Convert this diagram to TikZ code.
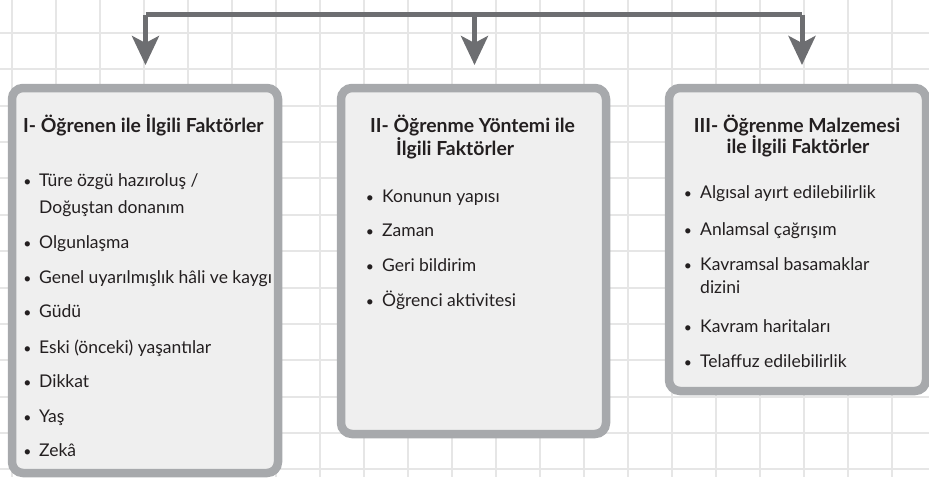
\documentclass[tikz,border=0pt]{standalone}
\usepackage{fontspec}
\setmainfont{Lato}
\usetikzlibrary{arrows.meta,calc}
\definecolor{gridc}{HTML}{E6E6E6}
\definecolor{boxborder}{HTML}{A7A9AC}
\definecolor{boxfill}{HTML}{EFEFEF}
\definecolor{arrc}{HTML}{6D6E71}
\definecolor{txt}{HTML}{231F20}
\begin{document}
\begin{tikzpicture}[x=1pt,y=-1pt,
  panel/.style={draw=boxborder, line width=8.5pt, fill=boxfill, rounded corners=11pt, rectangle, inner sep=0pt},
  conn/.style={draw=arrc, line width=5pt},
  arr/.style={conn, -{Stealth[length=29pt,width=27pt,inset=7pt]}},
  ttl/.style={font=\fontsize{19.4}{23}\selectfont\bfseries, text=txt, inner sep=0pt},
  itm/.style={font=\fontsize{17.5}{21}\selectfont, text=txt, anchor=base west, inner sep=0pt},
  bul/.style={font=\fontsize{14}{16}\selectfont, text=txt, anchor=base, inner sep=0pt}
]
\useasboundingbox (0,0) rectangle (929,477);
% grid
\begin{scope}
\clip (0,0) rectangle (929,477);
\foreach \k in {0,...,21} \draw[gridc, line width=2pt] (11.5+44*\k,0) -- (11.5+44*\k,477);
\foreach \k in {-1,...,12} \draw[gridc, line width=2pt] (0,33+36.36*\k) -- (929,33+36.36*\k);
\end{scope}
% connectors
\coordinate (t1) at (145.5,14.5);
\coordinate (t2) at (474.5,14.5);
\coordinate (t3) at (802,14.5);
\coordinate (tipy) at (0,65);
\draw[conn] (t1) -- (t3);
\draw[arr] (t1) -- (t1 |- tipy);
\draw[arr] (t2) -- (t2 |- tipy);
\draw[arr] (t3) -- (t3 |- tipy);
% boxes
\node[panel, minimum width=266pt, minimum height=385pt] (b1) at (145,280.5) {};
\node[panel, minimum width=265pt, minimum height=346pt] (b2) at (473.5,261) {};
\node[panel, minimum width=257pt, minimum height=303pt] (b3) at (797.5,239.5) {};
% box 1 text
\node[ttl, anchor=base west] (h1) at (23,132) {I- Öğrenen ile İlgili Faktörler};
\node[bul] (p11) at (27.5,186) {•};
\node[itm] (i11) at (39,186) {Türe özgü hazıroluş /};
\node[itm] (i11b) at (39,213) {Doğuştan donanım};
\node[bul] (p12) at (27.5,248) {•};
\node[itm] (i12) at (39,248) {Olgunlaşma};
\node[bul] (p13) at (27.5,283) {•};
\node[itm] (i13) at (39,283) {Genel uyarılmışlık hâli ve kaygı};
\node[bul] (p14) at (27.5,317) {•};
\node[itm] (i14) at (39,317) {Güdü};
\node[bul] (p15) at (27.5,353) {•};
\node[itm] (i15) at (39,353) {Eski (önceki) yaşantılar};
\node[bul] (p16) at (27.5,387) {•};
\node[itm] (i16) at (39,387) {Dikkat};
\node[bul] (p17) at (27.5,422) {•};
\node[itm] (i17) at (39,422) {Yaş};
\node[bul] (p18) at (27.5,456) {•};
\node[itm] (i18) at (39,456) {Zekâ};
% box 2 text
\node[ttl, anchor=base west] (h2a) at (370,132) {II- Öğrenme Yöntemi ile};
\node[ttl, anchor=base west] (h2b) at (396,155) {İlgili Faktörler};
\node[bul] (p21) at (370,202) {•};
\node[itm] (i21) at (382,202) {Konunun yapısı};
\node[bul] (p22) at (370,236) {•};
\node[itm] (i22) at (382,236) {Zaman};
\node[bul] (p23) at (370,271) {•};
\node[itm] (i23) at (382,271) {Geri bildirim};
\node[bul] (p24) at (370,306) {•};
\node[itm] (i24) at (382,306) {Öğrenci aktivitesi};
% box 3 text
\node[ttl, anchor=base] (h3a) at (797,132) {III- Öğrenme Malzemesi};
\node[ttl, anchor=base] (h3b) at (798,153) {ile İlgili Faktörler};
\node[bul] (p31) at (688,198) {•};
\node[itm] (i31) at (700,198) {Algısal ayırt edilebilirlik};
\node[bul] (p32) at (688,235) {•};
\node[itm] (i32) at (700,235) {Anlamsal çağrışım};
\node[bul] (p33) at (688,270) {•};
\node[itm] (i33) at (700,270) {Kavramsal basamaklar};
\node[itm] (i33b) at (700,293) {dizini};
\node[bul] (p34) at (688,332) {•};
\node[itm] (i34) at (700,332) {Kavram haritaları};
\node[bul] (p35) at (688,367) {•};
\node[itm] (i35) at (700,367) {Telaffuz edilebilirlik};
\end{tikzpicture}
\end{document}
